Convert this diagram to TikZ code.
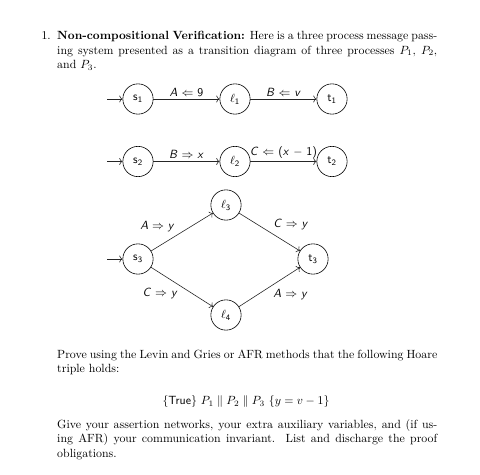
\documentclass[tikz,border=0pt]{standalone}
\usetikzlibrary{arrows.meta}
\newcommand{\sv}[1]{\textsf{\slshape #1}}
\newcommand{\su}[1]{\textsf{#1}}
\begin{document}
\begin{tikzpicture}[x=0.842pt,y=-0.842pt,
  state/.style={draw=black,circle,line width=0.5pt,minimum size=25.5pt,inner sep=0pt,font=\normalsize},
  conn/.style={draw=black!85,line width=0.5pt,->},
  elab/.style={inner sep=2pt,font=\normalsize},
  txt/.style={anchor=base west,inner sep=0pt,font=\normalsize}]
\useasboundingbox (0,0) rectangle (480,475);
% header text
\node[anchor=base east,inner sep=0pt] (num) at (51,40) {1.};
\node[txt] (h1) at (57,40) {\makebox[320pt][s]{\textbf{Non-compositional Verification:} Here is a three process message pass-}};
\node[txt] (h2) at (57,54.2) {\makebox[320pt][s]{ing system presented as a transition diagram of three processes $P_1$, $P_2$,}};
\node[txt] (h3) at (57,68.4) {and $P_3$.};
% row 1
\coordinate (i1) at (107,99);
\node[state] (s1) at (138,99) {$\mathsf{s}_{\mathsf{1}}$};
\node[state] (l1) at (235,99) {$\ell_{\mathsf{1}}$};
\node[state] (t1) at (332,99) {$\mathsf{t}_{\mathsf{1}}$};
\draw[conn] (i1) -- (s1);
\draw[conn] (s1) -- node[elab,above] (a1) {\sv{A} $\Leftarrow$ \su{9}} (l1);
\draw[conn] (l1) -- node[elab,above] (a2) {\sv{B} $\Leftarrow$ \sv{v}} (t1);
% row 2
\coordinate (i2) at (107,161.5);
\node[state] (s2) at (138,161.5) {$\mathsf{s}_{\mathsf{2}}$};
\node[state] (l2) at (235,161.5) {$\ell_{\mathsf{2}}$};
\node[state] (t2) at (332,161.5) {$\mathsf{t}_{\mathsf{2}}$};
\draw[conn] (i2) -- (s2);
\draw[conn] (s2) -- node[elab,above] (a3) {\sv{B} $\Rightarrow$ \sv{x}} (l2);
\draw[conn] (l2) -- node[elab,above] (a4) {\sv{C} $\Leftarrow$ \su{(}\sv{x} $-$ \su{1)}} (t2);
% diamond
\coordinate (i3) at (107,259);
\node[state] (s3) at (138,259) {$\mathsf{s}_{\mathsf{3}}$};
\node[state] (l3) at (226,205) {$\ell_{\mathsf{3}}$};
\node[state] (l4) at (226,315) {$\ell_{\mathsf{4}}$};
\node[state] (t3) at (313,259) {$\mathsf{t}_{\mathsf{3}}$};
\draw[conn] (i3) -- (s3);
\draw[conn] (s3) -- node[elab,pos=0.42,above left] (b1) {\sv{A} $\Rightarrow$ \sv{y}} (l3);
\draw[conn] (l3) -- node[elab,pos=0.52,above right] (b2) {\sv{C} $\Rightarrow$ \sv{y}} (t3);
\draw[conn] (s3) -- node[elab,pos=0.47,below left] (b3) {\sv{C} $\Rightarrow$ \sv{y}} (l4);
\draw[conn] (l4) -- node[elab,pos=0.52,below right] (b4) {\sv{A} $\Rightarrow$ \sv{y}} (t3);
% bottom text
\node[txt] (p1) at (57,359) {\makebox[320pt][s]{Prove using the Levin and Gries or AFR methods that the following Hoare}};
\node[txt] (p2) at (57,373) {triple holds:};
\node[anchor=base,inner sep=0pt] (tr) at (246,405) {$\{\textsf{True}\}\ P_1 \parallel P_2 \parallel P_3\ \{y = v - 1\}$};
\node[txt] (g1) at (57,428.7) {\makebox[320pt][s]{Give your assertion networks, your extra auxiliary variables, and (if us-}};
\node[txt] (g2) at (57,442.9) {\makebox[320pt][s]{ing AFR) your communication invariant.\ \ List and discharge the proof}};
\node[txt] (g3) at (57,457.1) {obligations.};
\end{tikzpicture}
\end{document}
